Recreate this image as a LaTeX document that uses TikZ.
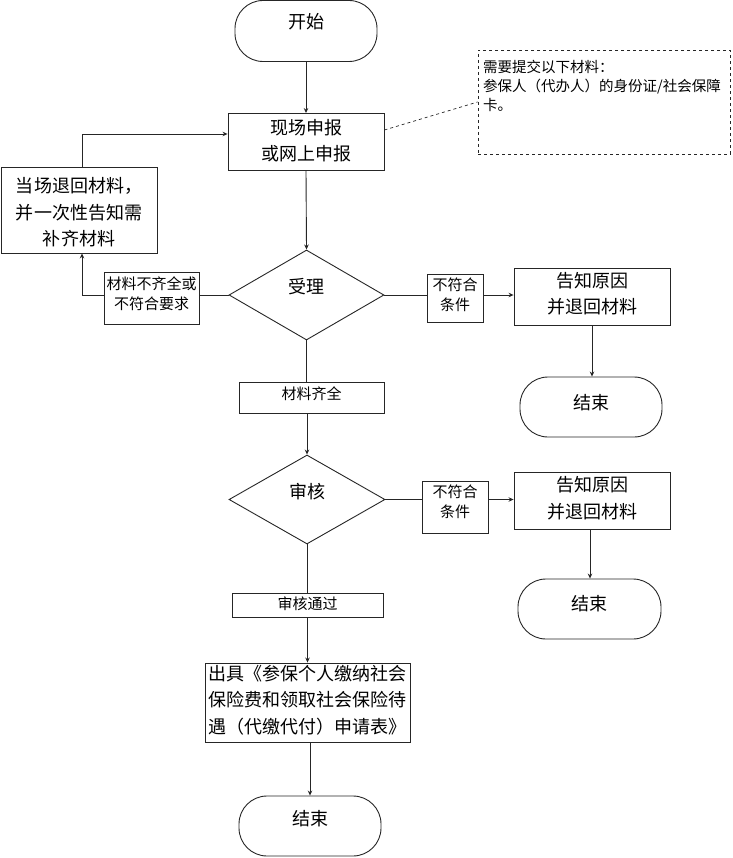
\documentclass[tikz,border=0pt]{standalone}
\usepackage{fontspec}
\setmainfont{Noto Sans CJK SC}
\usetikzlibrary{shapes.geometric,arrows.meta}
\tikzset{
  ln/.style={draw=black!85, line width=0.9pt},
  arr/.style={ln, -{Stealth[length=5pt,width=4.5pt]}},
  box/.style={ln, rectangle, inner sep=0pt, fill=white},
  term/.style={box, rounded corners=28pt},
  dia/.style={ln, diamond, inner sep=0pt, fill=white},
  big/.style={font=\fontsize{18}{26.5}\selectfont, align=center, inner sep=0pt},
  small/.style={font=\fontsize{15}{20}\selectfont, align=center, inner sep=0pt},
}
\begin{document}
\begin{tikzpicture}[x=1pt,y=-1pt]
\useasboundingbox (0,0) rectangle (732,858);
% nodes
\node[term, minimum width=142pt, minimum height=61pt,
      label={[big,yshift=9pt]center:开始}] (start) at (306,31) {};
\node[box, minimum width=156pt, minimum height=57pt,
      label={[big,yshift=1.5pt]center:现场申报\\或网上申报}] (box1) at (306,142) {};
\node[box, dashed, line width=0.8pt, minimum width=252pt, minimum height=104pt] (note) at (604,102) {};
\node[anchor=north west, inner sep=0pt, align=left, font=\fontsize{14.5}{19}\selectfont] (notetxt) at (483,60)
  {需要提交以下材料：\\参保人（代办人）的身份证/社会保障\\卡。};
\node[box, minimum width=156pt, minimum height=86pt,
      label={[big,yshift=-2.5pt]center:当场退回材料，\\并一次性告知需\\补齐材料}] (left) at (79,210) {};
\node[dia, minimum width=155pt, minimum height=90pt,
      label={[big,yshift=8pt]center:受理}] (d1) at (306.5,295) {};
\node[box, minimum width=95pt, minimum height=52pt,
      label={[small,yshift=4pt]center:材料不齐全或\\不符合要求}] (lab1) at (151.5,298) {};
\node[box, minimum width=56pt, minimum height=48pt,
      label={[small,yshift=3pt]center:不符合\\条件}] (lab2) at (455,298) {};
\node[box, minimum width=156pt, minimum height=57pt,
      label={[big,yshift=3pt]center:告知原因\\并退回材料}] (r1) at (592,296.5) {};
\node[term, minimum width=142pt, minimum height=60pt,
      label={[big,yshift=4pt]center:结束}] (e1) at (591,407) {};
\node[box, minimum width=145pt, minimum height=31pt,
      label={[small,yshift=3.5pt]center:材料齐全}] (lab3) at (311.5,397.5) {};
\node[dia, minimum width=156pt, minimum height=89pt,
      label={[big,yshift=7.5pt]center:审核}] (d2) at (307,499.5) {};
\node[box, minimum width=66pt, minimum height=52pt,
      label={[small,yshift=5.5pt]center:不符合\\条件}] (lab4) at (455,507) {};
\node[box, minimum width=156pt, minimum height=57pt,
      label={[big,yshift=2.5pt]center:告知原因\\并退回材料}] (r2) at (592,500.5) {};
\node[term, minimum width=143pt, minimum height=60pt,
      label={[big,yshift=5pt]center:结束}] (e2) at (589.5,609) {};
\node[box, minimum width=151pt, minimum height=24pt,
      label={[small,yshift=1pt]center:审核通过}] (lab5) at (307.5,605) {};
\node[box, minimum width=205pt, minimum height=79pt,
      label={[big,yshift=2.5pt]center:出具《参保个人缴纳社会\\保险费和领取社会保险待\\遇（代缴代付）申请表》}] (fin) at (307.5,702.5) {};
\node[term, minimum width=142pt, minimum height=60pt,
      label={[big,yshift=7pt]center:结束}] (e3) at (310,826) {};
% connectors
\draw[arr] (start.south) -- (box1.north);
\draw[ln, dashed, line width=0.7pt] ([yshift=12pt]box1.east) -- (note.west);
\draw[arr] (box1.south) -- (d1.north);
\draw[ln] (d1.west) -- (d1.west -| lab1.east);
\draw[arr] (lab1.west |- d1.west) -| ([xshift=3pt]left.south);
\draw[arr] ([xshift=3pt]left.north) |- ([yshift=8pt]box1.west);
\draw[ln] (d1.east) -- (d1.east -| lab2.west);
\draw[arr] (lab2.east |- d1.east) -- (r1.west |- d1.east);
\draw[arr] (r1.south) -- (r1.south |- e1.north);
\draw[ln] (d1.south) -- (d1.south |- lab3.north);
\draw[arr] (lab3.south -| d2.north) -- (d2.north);
\draw[ln] (d2.east) -- (d2.east -| lab4.west);
\draw[arr] (lab4.east |- d2.east) -- (r2.west |- d2.east);
\draw[arr] ([xshift=-2pt]r2.south) -- ([xshift=-2pt]r2.south |- e2.north);
\draw[ln] (d2.south) -- (d2.south |- lab5.north);
\draw[arr] (lab5.south -| fin.north) -- (fin.north);
\draw[arr] ([xshift=2.5pt]fin.south) -- ([xshift=2.5pt]fin.south |- e3.north);
\end{tikzpicture}
\end{document}
